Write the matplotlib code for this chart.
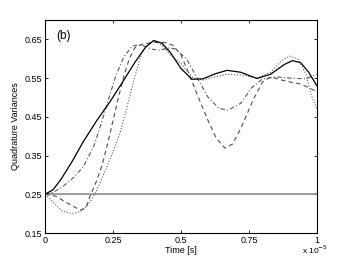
import numpy as np
import matplotlib
matplotlib.use("Agg")
from matplotlib import pyplot as plt

plt.rcParams['font.family'] = ['Liberation Sans', 'DejaVu Sans']

# time in units of 1e-5 s
t_solid = [0, 0.03, 0.06, 0.1, 0.14, 0.19, 0.24, 0.29, 0.33, 0.37, 0.40, 0.43, 0.46, 0.5,
           0.54, 0.58, 0.63, 0.67, 0.72, 0.78, 0.83, 0.88, 0.91, 0.94, 0.97, 1.0]
v_solid = [0.25, 0.262, 0.29, 0.335, 0.385, 0.44, 0.49, 0.545, 0.59, 0.63, 0.647, 0.64, 0.617, 0.575,
           0.547, 0.548, 0.562, 0.57, 0.565, 0.549, 0.56, 0.585, 0.595, 0.59, 0.565, 0.53]

t_dashdot = [0, 0.03, 0.06, 0.1, 0.14, 0.18, 0.21, 0.24, 0.26, 0.29, 0.32, 0.35, 0.39, 0.42,
             0.46, 0.48, 0.52, 0.56, 0.6, 0.64, 0.673, 0.72, 0.76, 0.8, 0.85, 0.9, 0.96, 1.0]
v_dashdot = [0.25, 0.255, 0.267, 0.29, 0.32, 0.375, 0.44, 0.51, 0.555, 0.605, 0.632, 0.637, 0.625, 0.622,
             0.628, 0.625, 0.6, 0.55, 0.5, 0.472, 0.467, 0.485, 0.525, 0.548, 0.553, 0.55, 0.548, 0.56]

t_dashed = [0, 0.04, 0.08, 0.13, 0.15, 0.165, 0.19, 0.21, 0.23, 0.25, 0.27, 0.29, 0.31, 0.33,
            0.36, 0.4, 0.44, 0.47, 0.5, 0.53, 0.57, 0.6, 0.63, 0.662, 0.69, 0.72, 0.765, 0.8,
            0.83, 0.87, 0.9, 0.94, 0.97, 1.0]
v_dashed = [0.25, 0.245, 0.228, 0.209, 0.215, 0.244, 0.285, 0.325, 0.38, 0.44, 0.5, 0.555, 0.6, 0.628,
            0.638, 0.642, 0.642, 0.635, 0.61, 0.56, 0.49, 0.44, 0.395, 0.369, 0.38, 0.42, 0.493, 0.54,
            0.553, 0.545, 0.54, 0.535, 0.525, 0.515]

t_dotted = [0, 0.03, 0.06, 0.098, 0.13, 0.155, 0.178, 0.2, 0.227, 0.25, 0.276, 0.3, 0.325, 0.355,
            0.38, 0.4, 0.43, 0.46, 0.5, 0.545, 0.58, 0.62, 0.67, 0.72, 0.78, 0.83, 0.87, 0.9,
            0.93, 0.96, 0.98, 1.0]
v_dotted = [0.25, 0.23, 0.208, 0.2, 0.205, 0.22, 0.244, 0.275, 0.32, 0.36, 0.408, 0.47, 0.54, 0.614,
            0.64, 0.647, 0.635, 0.61, 0.588, 0.55, 0.545, 0.552, 0.56, 0.558, 0.55, 0.565, 0.595, 0.607,
            0.6, 0.56, 0.505, 0.47]

t_ref = [0, 1.0]
v_ref = [0.25, 0.25]

fig = plt.figure(figsize=(3.49, 2.63), dpi=100)
ax = fig.add_axes([0.129, 0.114, 0.779, 0.81])

ax.plot(t_ref, v_ref, color="0.55", lw=1.2)
ax.plot(t_dotted, v_dotted, color="0.35", lw=0.8, ls=(0, (1, 1.6)))
ax.plot(t_dashed, v_dashed, color="0.3", lw=0.8, ls=(0, (4, 3)))
ax.plot(t_dashdot, v_dashdot, color="0.35", lw=0.8, ls=(0, (4, 2, 1, 2)))
ax.plot(t_solid, v_solid, color="black", lw=0.9)

ax.set_xlim(0, 1)
ax.set_ylim(0.15, 0.7)
ax.set_xticks([0, 0.25, 0.5, 0.75, 1])
ax.set_xticklabels(["0", "0.25", "0.5", "0.75", "1"])
ax.set_yticks([0.15, 0.25, 0.35, 0.45, 0.55, 0.65])
ax.tick_params(direction="in", top=True, right=True, labelsize=6.5, length=2.5, width=0.6, pad=2)
for s in ax.spines.values():
    s.set_linewidth(0.8)

ax.set_xlabel("Time [s]", fontsize=6.5, labelpad=1)
ax.set_ylabel("Quadrature Variances", fontsize=6.5, labelpad=3)
ax.text(0.04, 0.658, "(b)", fontsize=8.5, va="center")
fig.text(0.865, 0.035, r"x 10$^{-5}$", fontsize=6)

fig.savefig("out.png", dpi=100)
